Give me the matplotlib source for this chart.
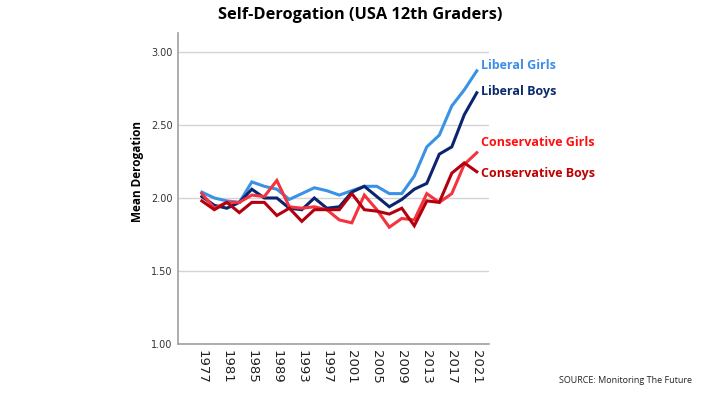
import matplotlib
matplotlib.use('Agg')
import matplotlib.pyplot as plt

# Data
# -----------------------------------------------------------------------------

years = [1977, 1979, 1981, 1983, 1985, 1987, 1989, 1991, 1993, 1995, 1997, 1999,
         2001, 2003, 2005, 2007, 2009, 2011, 2013, 2015, 2017, 2019, 2021]

liberal_girls = [2.04, 2.00, 1.98, 1.97, 2.11, 2.08, 2.06, 1.99, 2.03, 2.07, 2.05, 2.02,
                 2.05, 2.08, 2.08, 2.03, 2.03, 2.15, 2.35, 2.43, 2.63, 2.74, 2.87]
liberal_boys = [2.01, 1.95, 1.93, 1.97, 2.06, 2.00, 2.00, 1.93, 1.92, 2.00, 1.93, 1.94,
                2.04, 2.08, 2.01, 1.94, 1.99, 2.06, 2.10, 2.30, 2.35, 2.57, 2.72]
cons_girls = [2.03, 1.93, 1.97, 1.97, 2.02, 2.01, 2.12, 1.94, 1.93, 1.94, 1.92, 1.85,
              1.83, 2.02, 1.92, 1.80, 1.86, 1.85, 2.03, 1.97, 2.03, 2.23, 2.31]
cons_boys = [1.98, 1.92, 1.97, 1.90, 1.97, 1.97, 1.88, 1.93, 1.84, 1.92, 1.92, 1.92,
             2.03, 1.92, 1.91, 1.89, 1.93, 1.81, 1.98, 1.97, 2.17, 2.24, 2.18]

series = [
    ('Liberal Girls', liberal_girls, '#3a92e4', '#3d8ee6', 2.91),
    ('Liberal Boys', liberal_boys, '#0b2470', '#0c2a6e', 2.73),
    ('Conservative Girls', cons_girls, '#f5333f', '#ff1010', 2.38),
    ('Conservative Boys', cons_boys, '#b3000f', '#c00000', 2.17),
]

xticks = [1977, 1981, 1985, 1989, 1993, 1997, 2001, 2005, 2009, 2013, 2017, 2021]
yticks = [1.00, 1.50, 2.00, 2.50, 3.00]

# Plot
# -----------------------------------------------------------------------------

plt.rcParams['font.family'] = ['Open Sans', 'DejaVu Sans']

fig = plt.figure(figsize=(7.04, 3.96), dpi=100)
ax = fig.add_axes([0.253, 0.131, 0.442, 0.786])

for name, vals, color, tcolor, ty in series:
    ax.plot(years, vals, color=color, lw=2.2, solid_joinstyle='miter')
    ax.text(2021.6, ty, name, color=tcolor, fontsize=9, fontweight='bold',
            ha='left', va='center', clip_on=False)

ax.set_xlim(1973.2, 2023.0)
ax.set_ylim(1.0, 3.13)
ax.set_xticks(xticks)
ax.set_xticklabels([str(x) for x in xticks], rotation=-90, fontsize=9.5,
                   family='DejaVu Sans', color='#222222')
ax.set_yticks(yticks)
ax.set_yticklabels(['%.2f' % y for y in yticks], fontsize=7, color='#333333',
                   family='DejaVu Sans')
ax.tick_params(length=0, pad=4)
ax.tick_params(axis='x', pad=4)

ax.grid(axis='y', color='#d4d4d4', lw=1)
ax.set_axisbelow(True)
for s in ['top', 'right']:
    ax.spines[s].set_visible(False)
for s in ['left', 'bottom']:
    ax.spines[s].set_color('#a0a0a0')
    ax.spines[s].set_linewidth(1.2)

ax.set_ylabel('Mean Derogation', fontsize=8.5, fontweight='bold')
ax.yaxis.set_label_coords(-0.11, 0.556)

fig.text(0.512, 0.962, 'Self-Derogation (USA 12th Graders)', fontsize=11.8,
         fontweight='bold', ha='center', va='center')
fig.text(0.983, 0.04, 'SOURCE: Monitoring The Future', fontsize=6.5,
         ha='right', va='center', color='#222222')

fig.savefig('out.png', dpi=100)
